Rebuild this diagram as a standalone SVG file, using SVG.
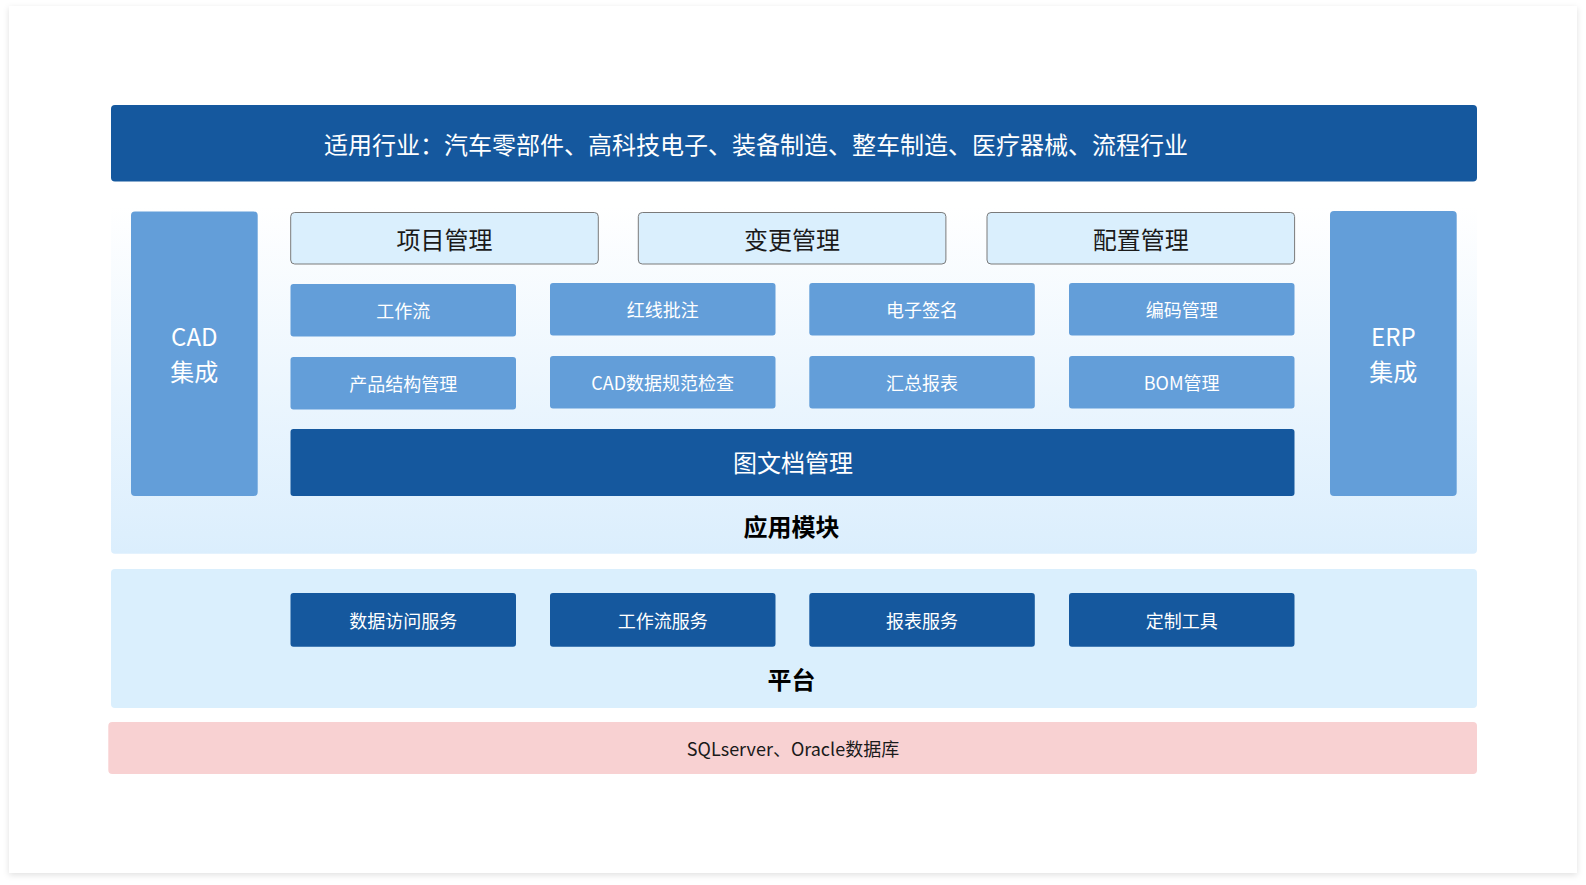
<svg xmlns="http://www.w3.org/2000/svg" width="1586" height="885" viewBox="0 0 1586 885">
<defs>
<filter id="shadow" x="-5%" y="-5%" width="110%" height="110%">
<feDropShadow dx="0" dy="2" stdDeviation="3" flood-color="#000" flood-opacity="0.12"/>
</filter>
<linearGradient id="modGrad" x1="0" y1="0" x2="0" y2="1">
<stop offset="0" stop-color="#ffffff"/>
<stop offset="1" stop-color="#dbeefd"/>
</linearGradient>
<style>
text{font-family:"Noto Sans CJK SC","Noto Sans",sans-serif;text-anchor:middle;dominant-baseline:central;}
.dark{fill:#15589e;}
.mid{fill:#639ed9;}
.head{fill:#daeffd;stroke:#7a7a7a;stroke-width:1;}
.wt{fill:#ffffff;}
.bk{fill:#1a1a1a;}
.f18{font-size:18px;}
.f24{font-size:24px;}
.bold{font-weight:bold;fill:#000;font-size:24px;}
</style>
</defs>
<rect x="0" y="0" width="1586" height="885" fill="#ffffff"/>
<rect id="card" x="9" y="6" width="1568" height="867" fill="#ffffff" filter="url(#shadow)"/>

<g id="banner">
<rect x="111" y="105" width="1366" height="76.5" rx="4" class="dark"/>
<text x="324" y="143" class="wt f24" style="text-anchor:start">适用行业：汽车零部件、高科技电子、装备制造、整车制造、医疗器械、流程行业</text>
</g>

<g id="app-modules">
<rect x="111" y="206" width="1366" height="347.7" rx="4" fill="url(#modGrad)"/>
<text x="791.5" y="525.5" class="bold">应用模块</text>
</g>

<g id="cad">
<rect x="131" y="211.5" width="126.7" height="284.5" rx="4" class="mid"/>
<text x="194.3" y="335.5" class="wt f24">CAD</text>
<text x="194.3" y="370.5" class="wt f24">集成</text>
</g>
<g id="erp">
<rect x="1330" y="211" width="126.7" height="285" rx="4" class="mid"/>
<text x="1393.3" y="335.5" class="wt f24">ERP</text>
<text x="1393.3" y="370.5" class="wt f24">集成</text>
</g>

<g id="project">
<rect x="290.7" y="212.5" width="307.6" height="51.5" rx="4" class="head"/>
<text x="444.5" y="238" class="bk f24">项目管理</text>
</g>
<g id="change">
<rect x="638.3" y="212.5" width="307.6" height="51.5" rx="4" class="head"/>
<text x="792.1" y="238" class="bk f24">变更管理</text>
</g>
<g id="config">
<rect x="987" y="212.5" width="307.6" height="51.5" rx="4" class="head"/>
<text x="1140.8" y="238" class="bk f24">配置管理</text>
</g>

<g id="workflow">
<rect x="290.5" y="284" width="225.5" height="52.5" rx="3" class="mid"/>
<text x="403.2" y="310" class="wt f18">工作流</text>
</g>
<g id="redline">
<rect x="550" y="283" width="225.5" height="52.5" rx="3" class="mid"/>
<text x="662.7" y="309" class="wt f18">红线批注</text>
</g>
<g id="esign">
<rect x="809.3" y="283" width="225.5" height="52.5" rx="3" class="mid"/>
<text x="922" y="309" class="wt f18">电子签名</text>
</g>
<g id="coding">
<rect x="1069" y="283" width="225.5" height="52.5" rx="3" class="mid"/>
<text x="1181.7" y="309" class="wt f18">编码管理</text>
</g>

<g id="product-structure">
<rect x="290.5" y="357" width="225.5" height="52.5" rx="3" class="mid"/>
<text x="403.2" y="383" class="wt f18">产品结构管理</text>
</g>
<g id="cad-check">
<rect x="550" y="356" width="225.5" height="52.5" rx="3" class="mid"/>
<text x="662.7" y="382" class="wt f18">CAD数据规范检查</text>
</g>
<g id="summary">
<rect x="809.3" y="356" width="225.5" height="52.5" rx="3" class="mid"/>
<text x="922" y="382" class="wt f18">汇总报表</text>
</g>
<g id="bom">
<rect x="1069" y="356" width="225.5" height="52.5" rx="3" class="mid"/>
<text x="1181.7" y="382" class="wt f18">BOM管理</text>
</g>

<g id="doc-mgmt">
<rect x="290.5" y="429" width="1004" height="67" rx="3" class="dark"/>
<text x="793" y="461.5" class="wt f24">图文档管理</text>
</g>

<g id="platform">
<rect x="111" y="569" width="1366" height="139" rx="4" fill="#daeffd"/>
<text x="791.5" y="678" class="bold">平台</text>
</g>
<g id="data-access">
<rect x="290.5" y="593" width="225.5" height="53.7" rx="3" class="dark"/>
<text x="403.2" y="620" class="wt f18">数据访问服务</text>
</g>
<g id="workflow-service">
<rect x="550" y="593" width="225.5" height="53.7" rx="3" class="dark"/>
<text x="662.7" y="620" class="wt f18">工作流服务</text>
</g>
<g id="report-service">
<rect x="809.3" y="593" width="225.5" height="53.7" rx="3" class="dark"/>
<text x="922" y="620" class="wt f18">报表服务</text>
</g>
<g id="custom-tools">
<rect x="1069" y="593" width="225.5" height="53.7" rx="3" class="dark"/>
<text x="1181.7" y="620" class="wt f18">定制工具</text>
</g>

<g id="database">
<rect x="108.3" y="722" width="1368.7" height="52" rx="4" fill="#f8d1d2"/>
<text x="793" y="747.5" class="bk f18">SQLserver、Oracle数据库</text>
</g>

<g id="connectors"></g>
</svg>
